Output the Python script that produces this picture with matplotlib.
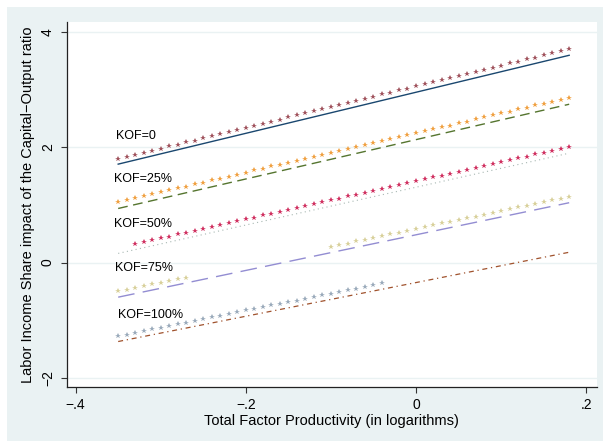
import numpy as np
import matplotlib.pyplot as plt
from matplotlib.patches import Rectangle

# TFP grid (log) used for the star series
tfp = [-0.35, -0.34, -0.33, -0.32, -0.31, -0.30, -0.29, -0.28, -0.27, -0.26,
       -0.25, -0.24, -0.23, -0.22, -0.21, -0.20, -0.19, -0.18, -0.17, -0.16,
       -0.15, -0.14, -0.13, -0.12, -0.11, -0.10, -0.09, -0.08, -0.07, -0.06,
       -0.05, -0.04, -0.03, -0.02, -0.01, 0.00, 0.01, 0.02, 0.03, 0.04,
       0.05, 0.06, 0.07, 0.08, 0.09, 0.10, 0.11, 0.12, 0.13, 0.14,
       0.15, 0.16, 0.17, 0.18]

stars_kof0 = [1.80, 1.84, 1.87, 1.91, 1.94, 1.98, 2.02, 2.05, 2.09, 2.12,
              2.16, 2.20, 2.23, 2.27, 2.30, 2.34, 2.38, 2.41, 2.45, 2.48,
              2.52, 2.56, 2.59, 2.63, 2.66, 2.70, 2.74, 2.77, 2.81, 2.84,
              2.88, 2.92, 2.95, 2.99, 3.02, 3.06, 3.10, 3.13, 3.17, 3.20,
              3.24, 3.28, 3.31, 3.35, 3.38, 3.42, 3.46, 3.49, 3.53, 3.56,
              3.60, 3.64, 3.67, 3.71]
stars_kof25 = [1.05, 1.08, 1.12, 1.15, 1.19, 1.22, 1.26, 1.29, 1.32, 1.36,
               1.39, 1.43, 1.46, 1.49, 1.53, 1.56, 1.60, 1.63, 1.67, 1.70,
               1.73, 1.77, 1.80, 1.84, 1.87, 1.90, 1.94, 1.97, 2.01, 2.04,
               2.08, 2.11, 2.14, 2.18, 2.21, 2.25, 2.28, 2.32, 2.35, 2.38,
               2.42, 2.45, 2.49, 2.52, 2.56, 2.59, 2.62, 2.66, 2.69, 2.73,
               2.76, 2.79, 2.83, 2.86]
# starts at -0.33
stars_kof50 = [0.32, 0.35, 0.39, 0.42, 0.45, 0.49, 0.52, 0.55, 0.58, 0.62,
               0.65, 0.68, 0.72, 0.75, 0.78, 0.82, 0.85, 0.88, 0.92, 0.95,
               0.98, 1.02, 1.05, 1.08, 1.11, 1.15, 1.18, 1.21, 1.25, 1.28,
               1.31, 1.35, 1.38, 1.41, 1.45, 1.48, 1.51, 1.54, 1.58, 1.61,
               1.64, 1.68, 1.71, 1.74, 1.78, 1.81, 1.84, 1.88, 1.91, 1.94,
               1.98, 2.01]
# two pieces: -0.35..-0.27 and -0.10..0.18
stars_kof75_a = [-0.50, -0.47, -0.44, -0.41, -0.38, -0.35, -0.32, -0.29, -0.26]
stars_kof75_b = [0.27, 0.30, 0.33, 0.37, 0.40, 0.43, 0.46, 0.49, 0.52, 0.55,
                 0.58, 0.61, 0.65, 0.68, 0.71, 0.74, 0.77, 0.80, 0.83, 0.86,
                 0.89, 0.93, 0.96, 0.99, 1.02, 1.05, 1.08, 1.11, 1.14]
# -0.35..-0.04
stars_kof100 = [-1.27, -1.25, -1.22, -1.19, -1.16, -1.13, -1.10, -1.07, -1.04, -1.01,
                -0.98, -0.95, -0.92, -0.89, -0.86, -0.83, -0.80, -0.77, -0.74, -0.71,
                -0.69, -0.66, -0.63, -0.60, -0.57, -0.54, -0.51, -0.48, -0.45, -0.42,
                -0.39, -0.36]

# fitted lines (end points)
line_x = [-0.35, 0.18]
line_kof0 = [1.71, 3.60]
line_kof25 = [0.94, 2.75]
line_kof50 = [0.16, 1.90]
line_kof75 = [-0.60, 1.04]
line_kof100 = [-1.37, 0.18]

labels = ['KOF=0', 'KOF=25%', 'KOF=50%', 'KOF=75%', 'KOF=100%']
label_y = [2.19, 1.46, 0.67, -0.10, -0.91]
label_x = [-0.3525, -0.3555, -0.3555, -0.354, -0.350]

plt.rcParams['font.family'] = ['Liberation Sans', 'DejaVu Sans']
bg = '#eaf2f3'

fig = plt.figure(figsize=(6.03, 4.41), dpi=100)
fig.patch.set_facecolor('white')
fig.patches.append(Rectangle((7 / 603, 0), 1, 1 - 7 / 441, transform=fig.transFigure,
                             facecolor=bg, edgecolor='none', zorder=-10))
ax = fig.add_axes([66.7 / 603, 1 - 387.3 / 441, (597 - 66.7) / 603, (387.3 - 22) / 441])
ax.set_facecolor('white')

ms = 3.9
ax.plot(line_x, line_kof0, color='#1a476f', lw=1.0, ls='-')
ax.plot(tfp, stars_kof0, ls='none', marker='*', ms=ms, mew=0, color='#a0525c')
ax.plot(line_x, line_kof25, color='#55752f', lw=1.0, ls=(0, (7, 4)))
ax.plot(tfp, stars_kof25, ls='none', marker='*', ms=ms, mew=0, color='#f0a040')
ax.plot(line_x, line_kof50, color='#a8b8b3', lw=0.8, ls=(0, (1, 3)))
ax.plot(tfp[2:], stars_kof50, ls='none', marker='*', ms=ms, mew=0, color='#d03060')
ax.plot(line_x, line_kof75, color='#938dd2', lw=1.0, ls=(0, (12, 6)))
ax.plot(tfp[:9], stars_kof75_a, ls='none', marker='*', ms=ms, mew=0, color='#d8d09a')
ax.plot(tfp[25:], stars_kof75_b, ls='none', marker='*', ms=ms, mew=0, color='#d8d09a')
ax.plot(line_x, line_kof100, color='#a0522d', lw=0.9, ls=(0, (4, 3, 1, 3)))
ax.plot(tfp[:32], stars_kof100, ls='none', marker='*', ms=ms, mew=0, color='#9aaabb')

for lx, ly, lab in zip(label_x, label_y, labels):
    ax.text(lx, ly, lab, ha='left', va='center', fontsize=9, color='black')

ax.set_xlim(-0.4105, 0.2127)
ax.set_ylim(-2.165, 4.178)
ax.set_xticks([-0.4, -0.2, 0, 0.2])
ax.set_xticklabels(['\u2212.4', '\u2212.2', '0', '.2'])
ax.set_yticks([-2, 0, 2, 4])
ax.set_yticklabels(['\u22122', '0', '2', '4'], rotation=90, va='center')
ax.grid(axis='y', color=bg, lw=1.0)
ax.set_axisbelow(True)
for s in ['top', 'right']:
    ax.spines[s].set_visible(False)
for s in ['left', 'bottom']:
    ax.spines[s].set_color('#222222')
    ax.spines[s].set_linewidth(0.9)
ax.tick_params(length=4.5, width=0.8, color='#333333', labelsize=10, pad=3)
ax.tick_params(axis='y', pad=4)

ax.set_xlabel('Total Factor Productivity (in logarithms)', fontsize=10.5, labelpad=2)
ax.set_ylabel('Labor Income Share impact of the Capital\u2212Output ratio', fontsize=10.5, labelpad=4)

fig.savefig('out.png', dpi=100, facecolor=fig.get_facecolor())
